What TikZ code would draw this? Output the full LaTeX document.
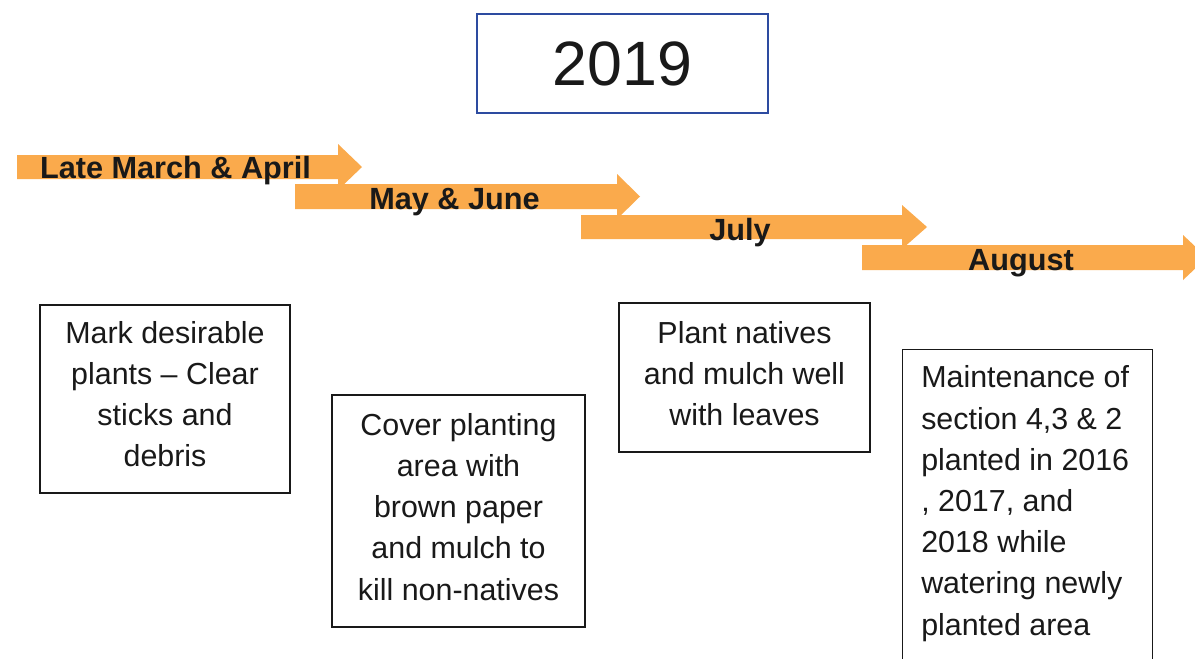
\documentclass[tikz,border=0pt]{standalone}
\usepackage{fontspec}
\setmainfont{Liberation Sans}
\definecolor{arrowc}{RGB}{250,170,76}
\definecolor{yearblue}{RGB}{45,75,160}
\definecolor{ink}{RGB}{25,25,25}
\begin{document}
\begin{tikzpicture}[x=0.75pt,y=-0.75pt,
  box/.style={draw=ink, line width=1.1pt, fill=white, inner sep=0pt},
  txt/.style={align=center, inner sep=0pt, text=ink, font=\fontsize{22.8}{30.9}\selectfont},
  txtl/.style={align=left, inner sep=0pt, text=ink, font=\fontsize{22.8}{30.9}\selectfont},
  lbl/.style={inner sep=0pt, text=ink, font=\fontsize{23}{27}\selectfont\bfseries},
  arr/.style={fill=arrowc, draw=none}]
\useasboundingbox (0,0) rectangle (1195,658);
\clip (0,0) rectangle (1195,658);
\fill[white] (0,0) rectangle (1195,658);

% year box
\node[draw=yearblue, line width=1.4pt, minimum width=218.25pt, minimum height=74.25pt, inner sep=0pt,
      text=ink, font=\fontsize{47}{50}\selectfont] (year) at (622.5,63.5) {2019};

% arrows
\fill[arr] (17,155) -- (338,155) -- (338,144) -- (362,167) -- (338,190) -- (338,179) -- (17,179) -- cycle;
\fill[arr] (295,184) -- (617,184) -- (617,174) -- (640,196.5) -- (617,219) -- (617,209) -- (295,209) -- cycle;
\fill[arr] (581,215) -- (902,215) -- (902,205) -- (927,227) -- (902,249) -- (902,239) -- (581,239) -- cycle;
\fill[arr] (862,245) -- (1183,245) -- (1183,235) -- (1207,257.5) -- (1183,280) -- (1183,270) -- (862,270) -- cycle;

\node[lbl, anchor=base] (a1) at (175.5,178) {Late March \& April};
\node[lbl, anchor=base] (a2) at (454.5,209) {May \& June};
\node[lbl, anchor=base] (a3) at (740,240) {July};
\node[lbl, anchor=base] (a4) at (1021,270) {August};

% boxes
\node[box, minimum width=187.5pt, minimum height=141pt] (b1) at (165,399) {};
\node[txt, anchor=north] (t1) at (165,321) {Mark desirable\\plants -- Clear\\sticks and\\debris};

\node[box, minimum width=189.75pt, minimum height=174pt] (b2) at (458.5,511) {};
\node[txt, anchor=north] (t2) at (458.5,413) {Cover planting\\area with\\brown paper\\and mulch to\\kill non-natives};

\node[box, minimum width=188.25pt, minimum height=111.75pt] (b3) at (744.5,377.5) {};
\node[txt, anchor=north] (t3) at (744.5,321) {Plant natives\\and mulch well\\with leaves};

\node[box, minimum width=187.5pt, minimum height=255pt, anchor=north west] (b4) at (902,349) {};
\node[txtl, anchor=north west] (t4) at (921,365.5) {Maintenance of\\section 4,3 \& 2\\planted in 2016\\, 2017, and\\2018 while\\watering newly\\planted area};
\end{tikzpicture}
\end{document}
